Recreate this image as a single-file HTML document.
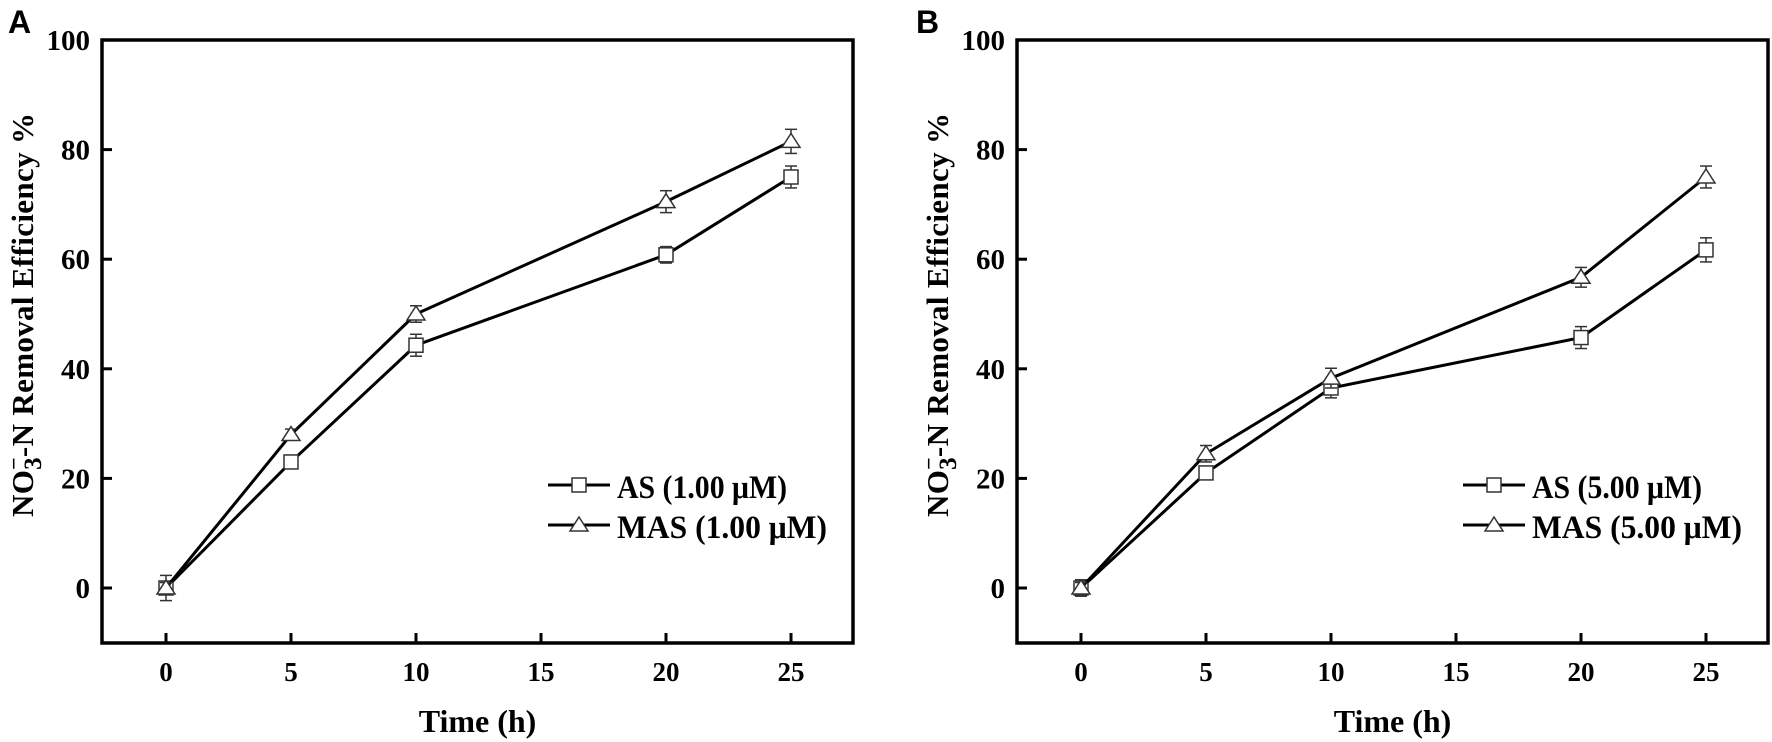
<!DOCTYPE html>
<html><head><meta charset="utf-8"><style>html,body{margin:0;padding:0;background:#fff}svg{display:block}</style></head>
<body>
<svg width="1772" height="742" viewBox="0 0 1772 742" xmlns="http://www.w3.org/2000/svg" font-family="'Liberation Serif', serif" font-weight="bold">
<defs>
<g id="tri"><path d="M0,-8 L9,6 L-9,6 Z" fill="#fff" stroke="#333" stroke-width="1.5"/></g>
<g id="sq"><rect x="-7" y="-7" width="14" height="14" fill="#fff" stroke="#333" stroke-width="1.5"/></g>
</defs>
<g id="A"></g>
<g id="B"></g>
<text x="8" y="33" font-family="'Liberation Sans', sans-serif" font-size="32" font-weight="bold">A</text>
<text x="916" y="33" font-family="'Liberation Sans', sans-serif" font-size="32" font-weight="bold">B</text>
</svg>
<script>
(function(){
var NS="http://www.w3.org/2000/svg";
function el(p,t,a,txt){var e=document.createElementNS(NS,t);for(var k in a)e.setAttribute(k,a[k]);if(txt!==undefined)e.textContent=txt;p.appendChild(e);return e;}
function panel(id,off,as,mas,asE,masE,conc){
 var g=document.getElementById(id);
 var L=102+off,R=853+off,T=40,Bm=643;
 var X=function(t){return 166+off+t*25;};
 var Y=function(v){return 588-v*5.48;};
 [0,20,40,60,80,100].forEach(function(v){
  if(v<100) el(g,'line',{x1:L,x2:L+10,y1:Y(v),y2:Y(v),stroke:'#000','stroke-width':3});
  el(g,'text',{x:L-12,y:Y(v)+10,'text-anchor':'end','font-size':29},String(v));
 });
 [0,5,10,15,20,25].forEach(function(t){
  el(g,'line',{x1:X(t),x2:X(t),y1:Bm,y2:Bm-10,stroke:'#000','stroke-width':3});
  el(g,'text',{x:X(t),y:681,'text-anchor':'middle','font-size':27},String(t));
 });
 el(g,'rect',{x:L,y:T,width:R-L,height:Bm-T,fill:'none',stroke:'#000','stroke-width':3.5});
 el(g,'text',{x:(L+R)/2,y:732,'text-anchor':'middle','font-size':32},'Time (h)');
 var yl=el(g,'text',{transform:'translate('+(33+off)+',315) rotate(-90)','text-anchor':'middle','font-size':31,textLength:404,lengthAdjust:'spacing'});
 yl.innerHTML='NO<tspan dy="8" font-size="25">3</tspan><tspan dy="-20" dx="-13" font-size="22">−</tspan><tspan dy="12">-N Removal Efficiency %</tspan>';
 var ts=[0,5,10,20,25];
 function series(d,e,mk){
  var pts=ts.map(function(t,i){return X(t)+','+Y(d[i]);}).join(' ');
  el(g,'polyline',{points:pts,fill:'none',stroke:'#000','stroke-width':3});
  ts.forEach(function(t,i){
   var x=X(t),y=Y(d[i]),h=e[i]*5.48;
   el(g,'line',{x1:x,x2:x,y1:y-h,y2:y+h,stroke:'#333','stroke-width':1.5});
   el(g,'line',{x1:x-6,x2:x+6,y1:y-h,y2:y-h,stroke:'#333','stroke-width':1.5});
   el(g,'line',{x1:x-6,x2:x+6,y1:y+h,y2:y+h,stroke:'#333','stroke-width':1.5});
   el(g,'use',{href:'#'+mk,x:x,y:y});
  });
 }
 series(as,asE,'sq');
 series(mas,masE,'tri');
 [[485,'sq','AS ('+conc+' μM)',170],[525,'tri','MAS ('+conc+' μM)',210]].forEach(function(l){
  el(g,'line',{x1:548+off,x2:610+off,y1:l[0],y2:l[0],stroke:'#000','stroke-width':3});
  el(g,'use',{href:'#'+l[1],x:579+off,y:l[0]});
  el(g,'text',{x:617+off,y:l[0]+13,'font-size':33,textLength:l[3],lengthAdjust:'spacingAndGlyphs'},l[2]);
 });
}
panel('A',0,[0,23,44.3,60.8,75],[0,28,50,70.5,81.5],[2.3,1,2,1.5,2],[1,1,1.5,2,2.2],'1.00');
panel('B',915,[0,21,36.5,45.7,61.7],[0,24.5,38.3,56.7,75],[1.5,1,1.8,2,2.2],[1,1.5,1.8,1.8,2],'5.00');
})();
</script>
</body></html>
